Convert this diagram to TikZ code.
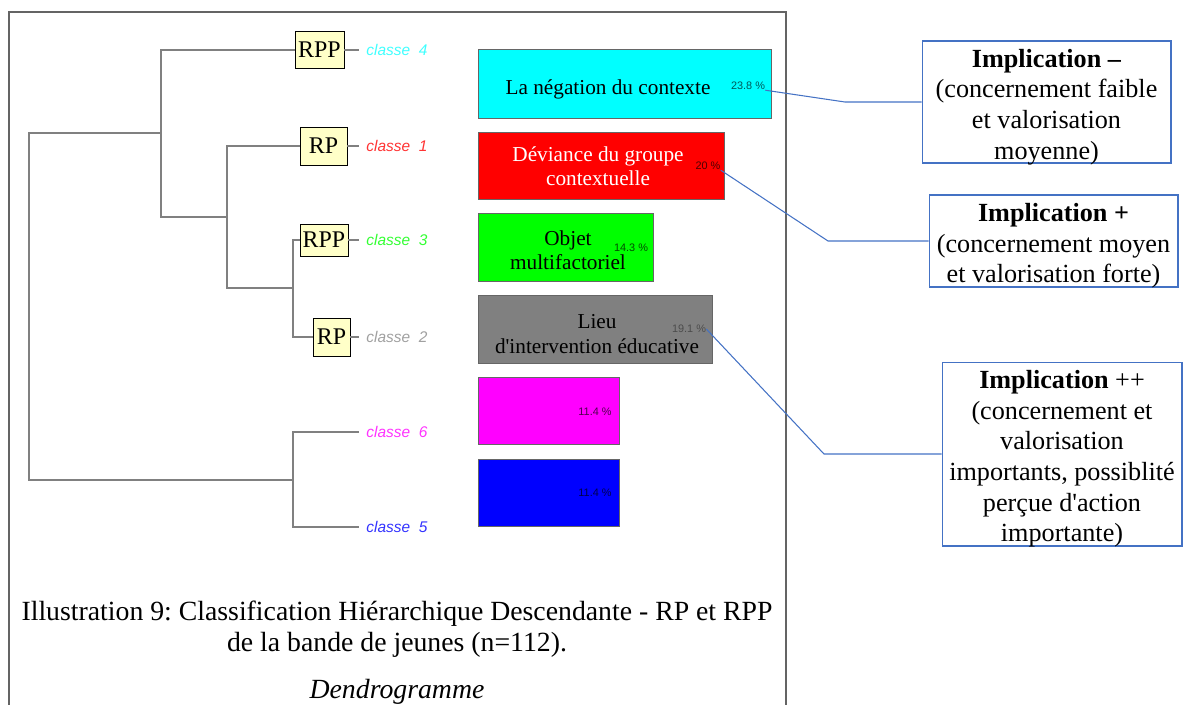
\documentclass[tikz,border=0pt]{standalone}
\usepackage{fontspec}
\setmainfont{Liberation Serif}[Ligatures=TeXOff]
\setsansfont{Liberation Sans}
\usetikzlibrary{positioning,calc}
\frenchspacing

\definecolor{treegray}{RGB}{128,128,128}
\definecolor{framegray}{RGB}{100,100,100}
\definecolor{linkblue}{RGB}{68,114,196}
\definecolor{boxyellow}{RGB}{255,255,200}
\definecolor{barcyan}{RGB}{0,255,255}
\definecolor{barred}{RGB}{255,0,0}
\definecolor{bargreen}{RGB}{0,255,0}
\definecolor{bargray}{RGB}{128,128,128}
\definecolor{barmagenta}{RGB}{255,0,255}
\definecolor{barblue}{RGB}{0,0,255}
\definecolor{cyanlab}{RGB}{64,255,255}
\definecolor{redlab}{RGB}{255,51,51}
\definecolor{greenlab}{RGB}{51,255,51}
\definecolor{graylab}{RGB}{160,160,160}
\definecolor{magentalab}{RGB}{255,51,255}
\definecolor{bluelab}{RGB}{51,51,255}

\tikzset{
  tree/.style={treegray, line width=1pt},
  rpbox/.style={draw=black, fill=boxyellow, inner sep=0pt, line width=0.5pt,
    font=\fontsize{13.6}{15}\selectfont},
  classlabel/.style={anchor=west, inner sep=0pt,
    font=\sffamily\itshape\fontsize{8.8}{10}\selectfont},
  bar/.style={draw=black!60, line width=0.5pt},
  bartext/.style={align=center, inner sep=0pt, font=\fontsize{12.1}{13.8}\selectfont},
  pct/.style={inner sep=0pt, font=\sffamily\fontsize{6.2}{7}\selectfont},
  implbox/.style={draw=linkblue, line width=0.6pt, inner sep=0pt},
  impltext/.style={align=center, inner sep=0pt, font=\fontsize{14.9}{17.4}\selectfont},
  link/.style={linkblue, line width=0.6pt},
  caption/.style={anchor=base, inner sep=0pt, font=\fontsize{15.8}{18}\selectfont},
}

\begin{document}
\begin{tikzpicture}[x=0.02cm, y=-0.02cm]
    \useasboundingbox (0,0) rectangle (1183,704);

    % frame of the illustration
    \draw[framegray, line width=1pt] (9,720) -- (9,12) -- (786,12) -- (786,720);

    % the RP / RPP boxes
    \node[rpbox, minimum width=0.98cm, minimum height=0.74cm] (rpp4) at (319.5,50) {RPP};
    \node[rpbox, minimum width=0.94cm, minimum height=0.76cm] (rp1) at (323.5,146) {RP};
    \node[rpbox, minimum width=0.96cm, minimum height=0.64cm] (rpp3) at (324,240) {RPP};
    \node[rpbox, minimum width=0.74cm, minimum height=0.76cm] (rp2) at (331.5,337) {RP};

    % draw the dendrogram
    \draw[tree] (161,133) -- (29,133) -- (29,480) -- (293,480);
    \draw[tree] (227,217) -- (161,217) -- (161,50) -- (rpp4.west);
    \draw[tree] (293,288) -- (227,288) -- (227,146) -- (rp1.west);
    \draw[tree] (rp2.west) -- (293,337) -- (293,240) -- (rpp3.west);
    \draw[tree] (359,432) -- (293,432) -- (293,527) -- (359,527);
    \foreach \b/\y in {rpp4/50, rp1/146, rpp3/240, rp2/337}
      \draw[tree] (\b.east) -- (359,\y);

    % class labels
    \foreach \n/\y/\col in {4/50/cyanlab, 1/146/redlab, 3/240/greenlab,
                            2/337/graylab, 6/432/magentalab, 5/527/bluelab}
      \node[classlabel, text=\col] (cl\n) at (366,\y) {classe\ \ \n};

    % the bars
    \foreach \y/\w/\h/\col in {49/771/118/barcyan, 132/724/199/barred, 213/653/281/bargreen,
                               295/712/363/bargray, 377/619/444/barmagenta, 459/619/526/barblue}
      \draw[bar, fill=\col] (478,\y) rectangle (\w,\h);

    \node[bartext] (t4) at (608,89) {La négation du contexte};
    \node[bartext, text=white] (t1) at (598,166) {Déviance du groupe\\contextuelle};
    \node[bartext] (t3) at (568,250) {Objet\\multifactoriel};
    \node[bartext] (t2) at (597,334) {Lieu\\d'intervention éducative};

    % percentages
    \node[pct, text=barcyan!35!black] (p4) at (748,86) {23.8 \%};
    \node[pct, text=barred!30!black] (p1) at (708,166) {20 \%};
    \node[pct, text=bargreen!30!black] (p3) at (631,248) {14.3 \%};
    \node[pct, text=black!70] (p2) at (689,329) {19.1 \%};
    \node[pct, text=barmagenta!30!black] (p6) at (595,412) {11.4 \%};
    \node[pct, text=barblue!30!black] (p5) at (595,493) {11.4 \%};

    % the implication boxes
    \node[implbox, minimum width=4.98cm, minimum height=2.44cm] (impl1) at (1046.5,102) {};
    \node[implbox, minimum width=4.98cm, minimum height=1.84cm] (impl2) at (1053.5,241) {};
    \node[implbox, minimum width=4.8cm, minimum height=3.68cm] (impl3) at (1062,454) {};
    \node[impltext] (i1) at ([yshift=-2.8pt]impl1.center)
      {\textbf{Implication –}\\(concernement faible\\et valorisation\\moyenne)};
    \node[impltext] (i2) at ([yshift=-2.8pt]impl2.center)
      {\textbf{Implication +}\\(concernement moyen\\et valorisation forte)};
    \node[impltext] (i3) at ([yshift=-2.8pt]impl3.center)
      {\textbf{Implication} ++\\(concernement et\\valorisation\\importants, possiblité\\perçue d'action\\importante)};

    % links from the bars to the boxes
    \coordinate (k4) at (845,102);
    \coordinate (k1) at (828,241);
    \coordinate (k2) at (824,454);
    \draw[link] (p4.south east) -- (k4) -- (impl1.west);
    \draw[link] (p1.south east) -- (k1) -- (impl2.west);
    \draw[link] (p2.east) -- (k2) -- (impl3.west);

    % caption
    \node[caption] (cap1) at (397,620)
      {Illustration 9: Classification Hiérarchique Descendante - RP et RPP};
    \node[caption] (cap2) at (397,651) {de la bande de jeunes (n=112).};
    \node[caption, font=\fontsize{15.8}{18}\selectfont\itshape] (cap3) at (397,698) {Dendrogramme};

\end{tikzpicture}
\end{document}
